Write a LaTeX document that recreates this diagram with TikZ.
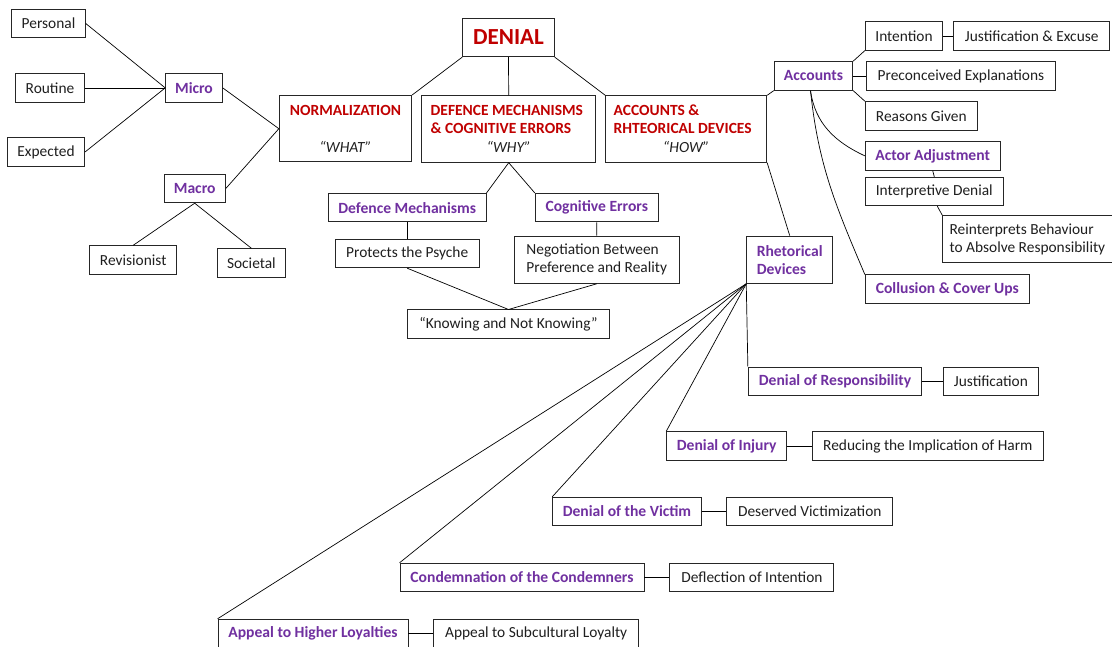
\documentclass[tikz,border=0pt]{standalone}
\usepackage{fontspec}
\setmainfont{Carlito}
\usetikzlibrary{positioning}

\definecolor{denred}{HTML}{C00000}
\definecolor{denpurple}{HTML}{7030A0}

\tikzset{
  box/.style={draw=black!85, line width=0.9pt, fill=white, inner sep=0pt,
    minimum height=28.5pt, text=black!88, font=\fontsize{15.4}{18}\selectfont},
  pbox/.style={box, text=denpurple, font=\fontsize{15.6}{18}\selectfont\bfseries},
  hbox/.style={box, minimum height=66.5pt, align=flush left, font=\fontsize{15.5}{18}\selectfont},
  link/.style={line width=0.7pt},
}

\begin{document}
\begin{tikzpicture}[x=1pt, y=-1pt]
  \useasboundingbox[fill=white] (0,0) rectangle (1112,647);

  \node[box, minimum width=91.6pt, minimum height=38.4pt, text=denred,
    font=\fontsize{23}{27}\selectfont\bfseries] (den) at (508.5,37.5) {DENIAL};

  \node[hbox, minimum width=132.4pt, text width=118pt, align=center] (nor) at (345.5,128.7)
    {{\color{denred}\bfseries NORMALIZATION}\\[19pt]\textit{“WHAT”}};
  \node[hbox, minimum width=174pt, text width=156pt] (why) at (508.7,129)
    {{\color{denred}\bfseries DEFENCE MECHANISMS\\\& COGNITIVE ERRORS}\\[1pt]\makebox[\linewidth]{\textit{“WHY”}}};
  \node[hbox, minimum width=161pt, text width=145pt] (how) at (686.2,129)
    {{\color{denred}\bfseries ACCOUNTS \&\\RHTEORICAL DEVICES}\\[1pt]\makebox[\linewidth]{\textit{“HOW”}}};

  \node[box, minimum width=73.6pt] (per) at (48.5,23.5) {Personal};
  \node[box, minimum width=68.6pt] (rou) at (50,87.9) {Routine};
  \node[box, minimum width=77.4pt] (exp) at (46,151.9) {Expected};
  \node[pbox, minimum width=56.6pt] (mic) at (194,87.9) {Micro};
  \node[pbox, minimum width=61.3pt] (mac) at (194.7,188.5) {Macro};
  \node[box, minimum width=87pt] (rev) at (133.2,260) {Revisionist};
  \node[box, minimum width=68.7pt] (soc) at (251.4,263) {Societal};

  \node[pbox, minimum width=157.7pt] (dm) at (407.2,207.7) {Defence Mechanisms};
  \node[pbox, minimum width=123pt] (ce) at (596.8,207.7) {Cognitive Errors};
  \node[box, minimum width=144.3pt] (pro) at (407.2,253.5) {Protects the Psyche};
  \node[box, minimum width=164.7pt, minimum height=47.3pt, align=left] (neg) at (596.7,259.7)
    {Negotiation Between\\Preference and Reality};
  \node[box, minimum width=201.6pt] (kno) at (508.5,324.2) {“Knowing and Not Knowing”};

  \node[pbox, minimum width=78.4pt] (acc) at (813.5,75.9) {Accounts};
  \node[box, minimum width=77.4pt] (int) at (904,35.9) {Intention};
  \node[box, minimum width=156.3pt, right=10pt of int] (jex) {Justification \& Excuse};
  \node[box, minimum width=189.4pt, right=12.6pt of acc] (pre) {Preconceived Explanations};
  \node[box, minimum width=112pt] (rea) at (921.3,115.9) {Reasons Given};
  \node[pbox, minimum width=134.7pt] (act) at (932.7,155.9) {Actor Adjustment};
  \node[box, minimum width=138pt] (ind) at (934.3,191.5) {Interpretive Denial};
  \node[box, minimum width=169.3pt, minimum height=47pt, align=left] (rei) at (1027.4,239.2)
    {Reinterprets Behaviour\\to Absolve Responsibility};
  \node[pbox, minimum width=164pt] (col) at (947.3,289.2) {Collusion \& Cover Ups};

  \node[pbox, minimum width=86pt, minimum height=47.3pt, align=left] (rhe) at (789.7,259.7)
    {Rhetorical\\Devices};
  \node[pbox, minimum width=173.4pt] (res) at (835,381.2) {Denial of Responsibility};
  \node[box, minimum width=95.4pt, right=20.6pt of res] (jus) {Justification};
  \node[pbox, minimum width=120pt] (inj) at (726.7,446) {Denial of Injury};
  \node[box, minimum width=231.4pt, right=24.6pt of inj] (red) {Reducing the Implication of Harm};
  \node[pbox, minimum width=148.6pt] (vic) at (627,511.5) {Denial of the Victim};
  \node[box, minimum width=166pt, right=24.6pt of vic] (des) {Deserved Victimization};
  \node[pbox, minimum width=244pt] (con) at (522,577.5) {Condemnation of the Condemners};
  \node[box, minimum width=164pt, right=25pt of con] (def) {Deflection of Intention};
  \node[pbox, minimum width=190pt] (app) at (313,633.5) {Appeal to Higher Loyalties};
  \node[box, minimum width=204.5pt, right=25pt of app] (sub) {Appeal to Subcultural Loyalty};

  \draw[link] (den.south west) -- (nor.north east);
  \draw[link] (den.south) -- (why.north);
  \draw[link] (den.south east) -- (how.north west);

  \draw[link] (per.east) -- (mic.west);
  \draw[link] (rou.east) -- (mic.west);
  \draw[link] (exp.east) -- (mic.west);
  \draw[link] (mic.east) -- (nor.west);
  \draw[link] (mac.east) -- (nor.west);
  \draw[link] (mac.south) -- (rev.north);
  \draw[link] (mac.south) -- (soc.north);

  \draw[link] (why.south) -- (dm.north east);
  \draw[link] (why.south) -- (ce.north west);
  \draw[link] (dm.south) -- (pro.north);
  \draw[link] (ce.south) -- (neg.north);
  \draw[link] (pro.south) -- (kno.north);
  \draw[link] (neg.south) -- (kno.north);

  \draw[link] (how.north east) -- (acc.south west);
  \draw[link] (how.south east) -- (rhe.north);
  \draw[link] (acc.north east) -- (int.south west);
  \draw[link] (int.east) -- (jex.west);
  \draw[link] (acc.east) -- (pre.west);
  \draw[link] (acc.south east) -- (rea.north west);
  \draw[link] ([xshift=-3pt]acc.south) to[out=-82, in=155] (act.west);
  \draw[link] ([xshift=-3pt]acc.south) to[out=-84, in=113] (col.north west);
  \draw[link] (act.south) -- (ind.north);
  \draw[link] ([xshift=3pt]ind.south) -- (rei.north west);

  \draw[link] (rhe.south west) -- (res.north west);
  \draw[link] (rhe.south west) -- (inj.north west);
  \draw[link] (rhe.south west) -- (vic.north west);
  \draw[link] (rhe.south west) -- (con.north west);
  \draw[link] (rhe.south west) -- (app.north west);
  \draw[link] (res.east) -- (jus.west);
  \draw[link] (inj.east) -- (red.west);
  \draw[link] (vic.east) -- (des.west);
  \draw[link] (con.east) -- (def.west);
  \draw[link] (app.east) -- (sub.west);
\end{tikzpicture}
\end{document}
